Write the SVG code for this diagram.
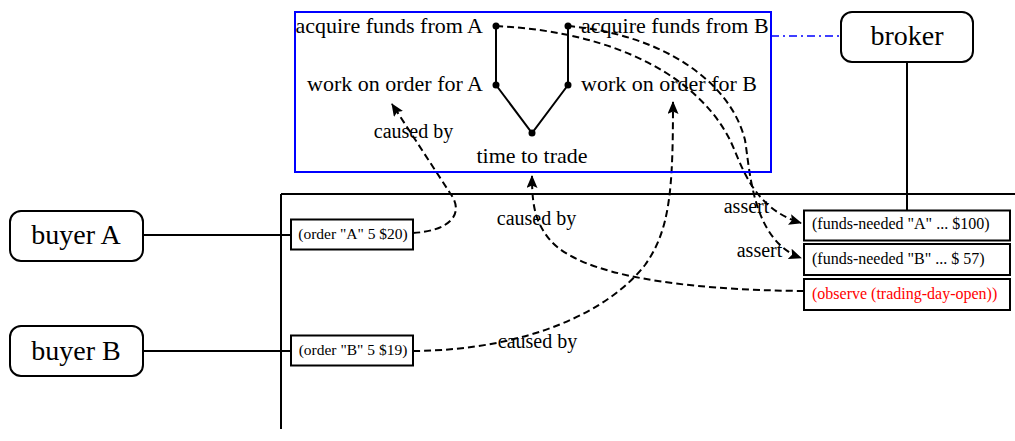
<svg xmlns="http://www.w3.org/2000/svg" width="1015" height="441" viewBox="0 0 1015 441">
<style>
  text { font-family: "Liberation Serif", "Times New Roman", serif; fill: #000; }
  .lbl { font-size: 22px; }
  .big { font-size: 28px; }
  .cap { font-size: 20px; }
  .sm { font-size: 15.5px; }
  .smr { font-size: 16px; }
  .red { fill: #ff0000; }
  .node { fill: #fff; stroke: #000; stroke-width: 2; }
  .line { fill: none; stroke: #000; stroke-width: 2; }
  .dash { fill: none; stroke: #000; stroke-width: 2; stroke-dasharray: 7 4; }
  .dot { fill: #000; }
</style>
<defs>
  <marker id="arr" markerUnits="userSpaceOnUse" markerWidth="13" markerHeight="11" viewBox="0 0 13 11" refX="12" refY="5.5" orient="auto">
    <path d="M0,0 L13,5.5 L0,11 L2.5,5.5 z" fill="#000"/>
  </marker>
</defs>
<rect width="1015" height="441" fill="#fff"/>

<g id="frame">
  <path class="line" d="M281,194 H1015 M281,194 V429" stroke-width="1.8"/>
</g>

<g id="connectors">
  <line x1="143" y1="235" x2="291" y2="235" class="line"/>
  <line x1="143" y1="351" x2="291" y2="351" class="line"/>
  <line x1="907" y1="62" x2="907" y2="210" class="line"/>
  <line x1="771" y1="36" x2="841" y2="36" stroke="#0000ff" stroke-width="1.6" stroke-dasharray="8 4 2 4"/>
  <path class="line" d="M496,26 V85 L532,133 L568,85 V26"/>
  <path class="dash" d="M413,233 C448,231 466,215 450,193 L392,104" marker-end="url(#arr)"/>
  <path class="dash" d="M413,351 C530,350 610,310 645,265 C670,230 673,190 673,102" marker-end="url(#arr)"/>
  <path class="dash" d="M804,291 C680,290 580,275 550,240 C535,222 532,205 532,176" marker-end="url(#arr)"/>
  <path class="dash" d="M496,26 C620,32 700,80 730,140 C742,165 752,208 801,223" marker-end="url(#arr)"/>
  <path class="dash" d="M568,26 C660,34 730,80 745,140 C750,170 752,240 801,258" marker-end="url(#arr)"/>
  <text class="cap" x="413.5" y="138" text-anchor="middle">caused by</text>
  <text class="cap" x="536.5" y="225" text-anchor="middle">caused by</text>
  <text class="cap" x="537.5" y="348" text-anchor="middle">caused by</text>
  <text class="cap" x="746.5" y="213" text-anchor="middle">assert</text>
  <text class="cap" x="759.5" y="256.5" text-anchor="middle">assert</text>
</g>

<g id="broker-state">
  <rect x="295" y="12" width="476" height="160" fill="none" stroke="#0000ff" stroke-width="2"/>
  <text class="lbl" x="483" y="33" text-anchor="end">acquire funds from A</text>
  <text class="lbl" x="581" y="33">acquire funds from B</text>
  <text class="lbl" x="483" y="91" text-anchor="end">work on order for A</text>
  <text class="lbl" x="581" y="91">work on order for B</text>
  <text class="lbl" x="532" y="163" text-anchor="middle">time to trade</text>
  <circle class="dot" cx="496" cy="26" r="3.5"/>
  <circle class="dot" cx="568" cy="26" r="3.5"/>
  <circle class="dot" cx="496" cy="85" r="3.5"/>
  <circle class="dot" cx="568" cy="85" r="3.5"/>
  <circle class="dot" cx="532" cy="133" r="3.5"/>
</g>

<g id="broker">
  <rect class="node" x="841" y="12" width="132" height="50" rx="11"/>
  <text class="big" x="907" y="45" text-anchor="middle">broker</text>
</g>

<g id="buyer-a">
  <rect class="node" x="10" y="211" width="133" height="50" rx="11"/>
  <text class="big" x="76" y="244" text-anchor="middle">buyer A</text>
</g>

<g id="buyer-b">
  <rect class="node" x="10" y="326" width="133" height="50" rx="11"/>
  <text class="big" x="76" y="360" text-anchor="middle">buyer B</text>
</g>

<g id="order-a">
  <rect class="node" x="291" y="219.5" width="122" height="30"/>
  <text class="sm" x="353" y="239" text-anchor="middle">(order "A" 5 $20)</text>
</g>

<g id="order-b">
  <rect class="node" x="291" y="335.5" width="122" height="30"/>
  <text class="sm" x="353" y="355" text-anchor="middle">(order "B" 5 $19)</text>
</g>

<g id="funds-a">
  <rect class="node" x="804" y="210.5" width="206" height="30"/>
  <text class="smr" x="812" y="228.5">(funds-needed "A" ... $100)</text>
</g>

<g id="funds-b">
  <rect class="node" x="804" y="244" width="206" height="31"/>
  <text class="smr" x="812" y="263.5">(funds-needed "B" ... $ 57)</text>
</g>

<g id="observe">
  <rect class="node" x="804" y="279" width="206" height="31"/>
  <text class="smr red" x="812" y="298.5">(observe (trading-day-open))</text>
</g>
</svg>
